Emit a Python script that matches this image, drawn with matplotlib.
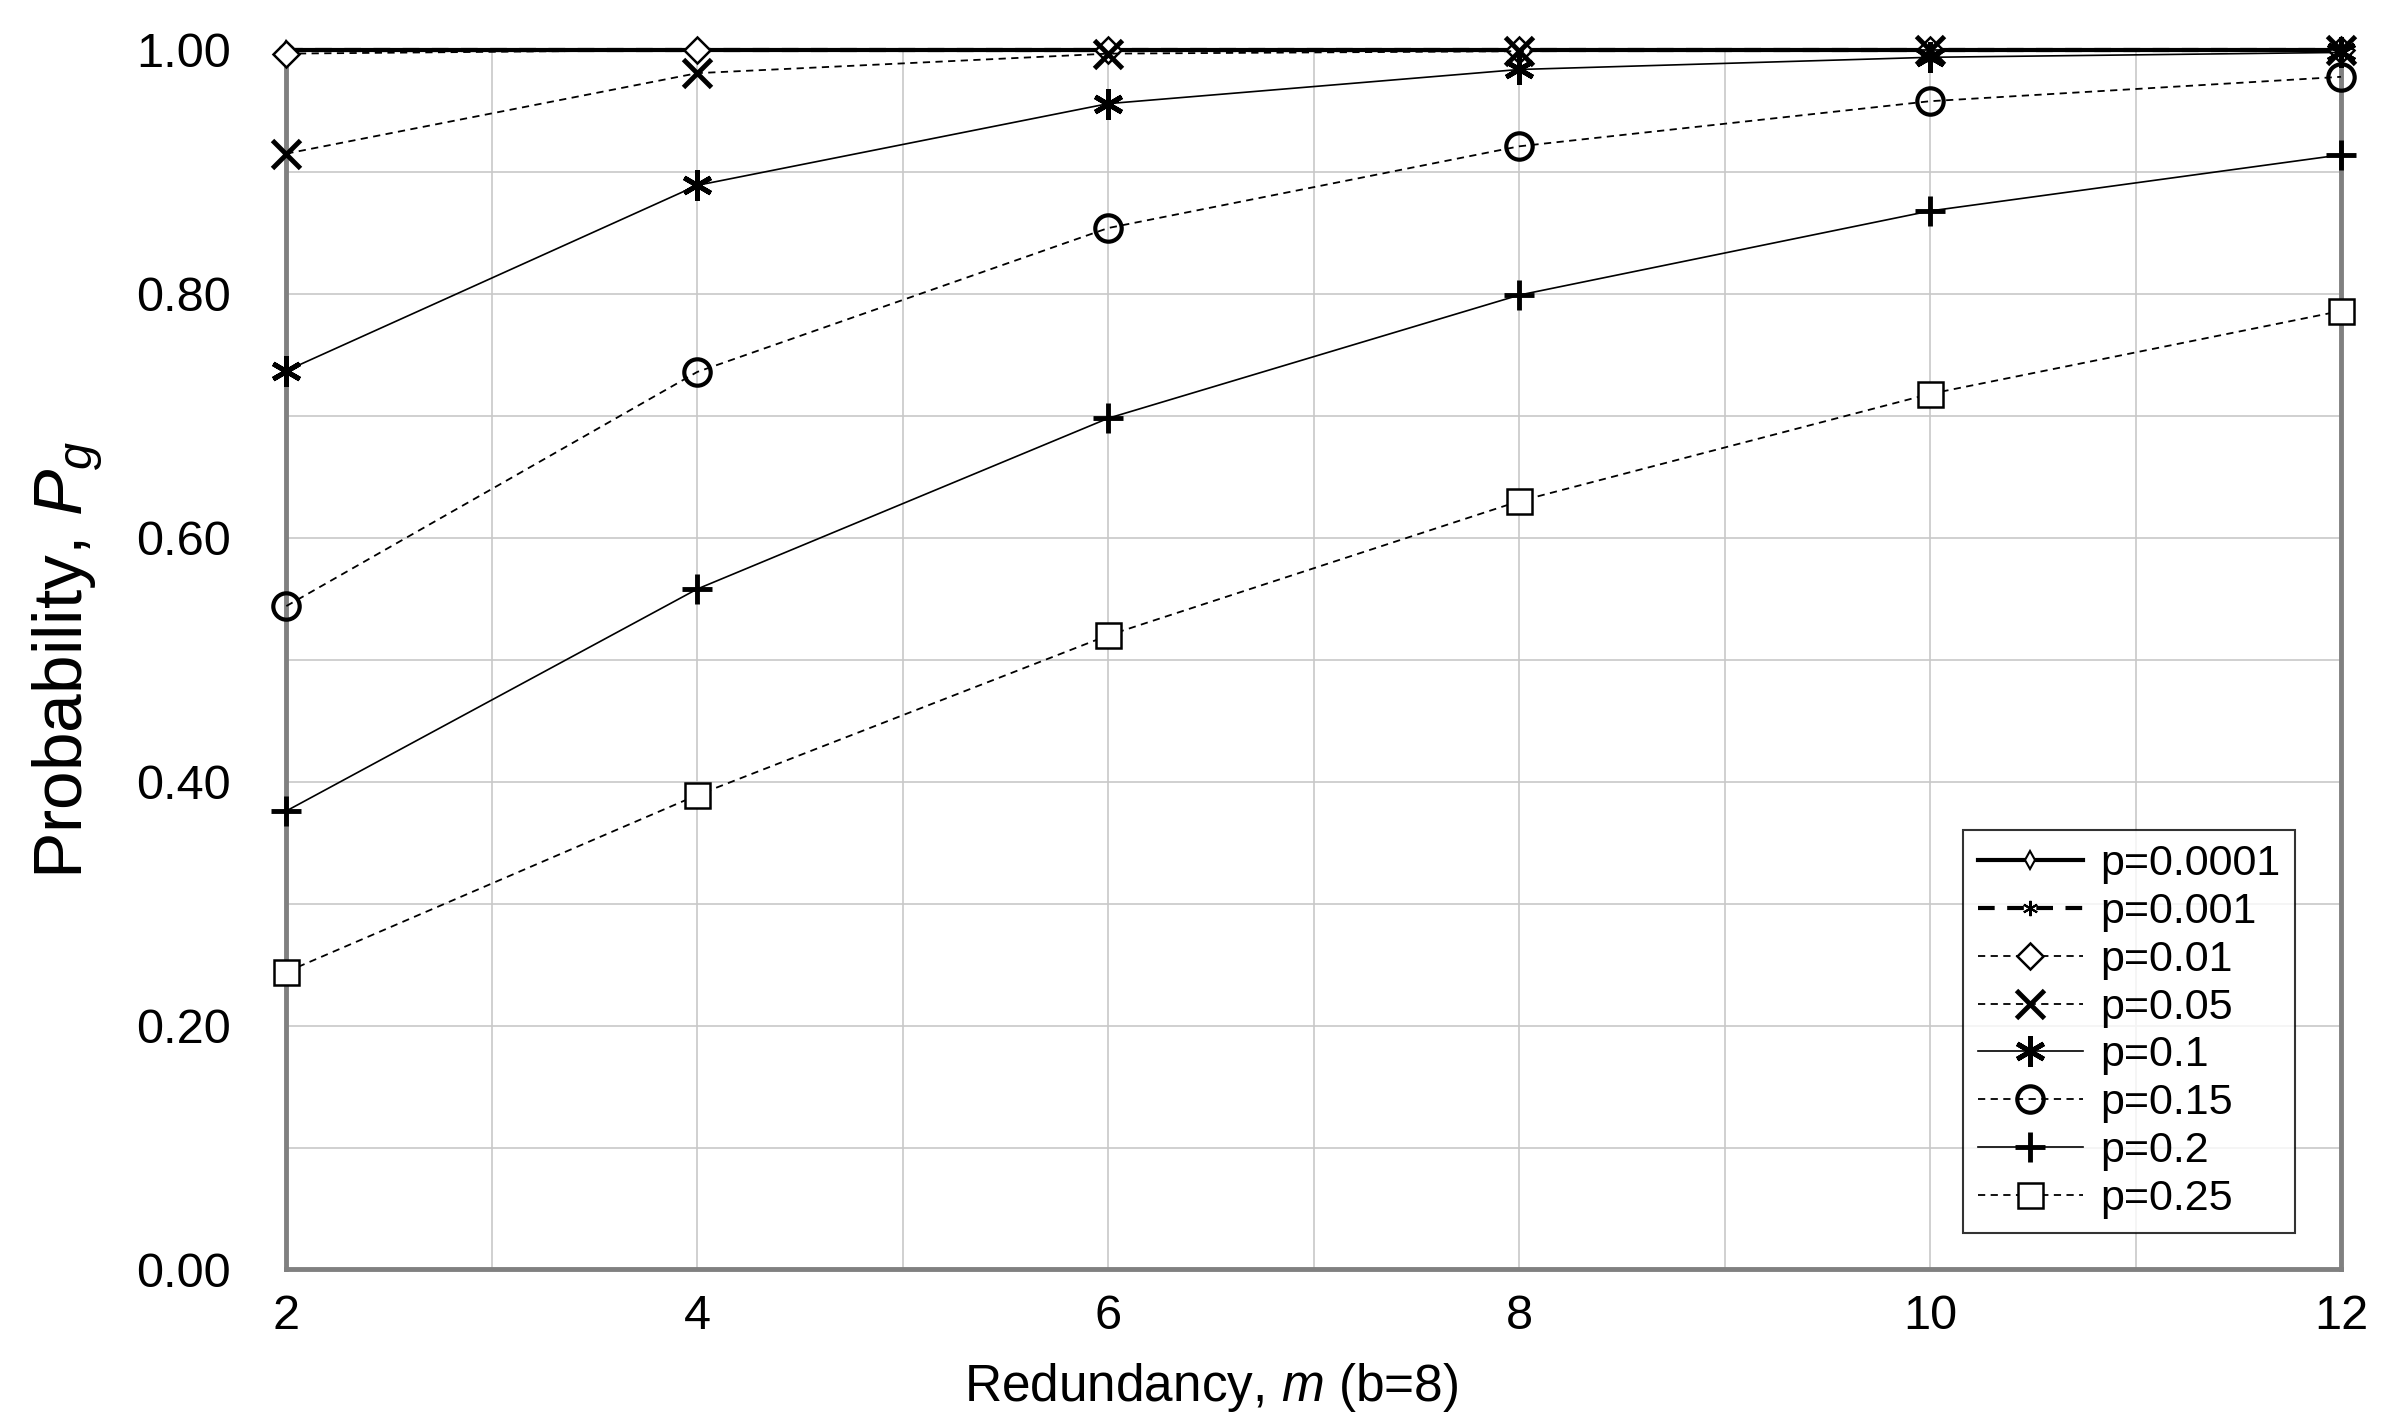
import numpy as np
import matplotlib
matplotlib.use("Agg")
import matplotlib.pyplot as plt

# redundancy m, b=8
m = [2, 4, 6, 8, 10, 12]

p_labels = ["p=0.0001", "p=0.001", "p=0.01", "p=0.05",
            "p=0.1", "p=0.15", "p=0.2", "p=0.25"]

pg_00001 = [1.000, 1.000, 1.000, 1.000, 1.000, 1.000]
pg_0001 = [1.000, 1.000, 1.000, 1.000, 1.000, 1.000]
pg_001 = [0.997, 1.000, 1.000, 1.000, 1.000, 1.000]
pg_005 = [0.915, 0.981, 0.997, 0.999, 1.000, 1.000]
pg_01 = [0.737, 0.889, 0.956, 0.984, 0.994, 0.998]
pg_015 = [0.544, 0.736, 0.854, 0.921, 0.958, 0.978]
pg_02 = [0.376, 0.558, 0.698, 0.799, 0.868, 0.914]
pg_025 = [0.244, 0.389, 0.520, 0.630, 0.718, 0.786]

series = [pg_00001, pg_0001, pg_001, pg_005, pg_01, pg_015, pg_02, pg_025]

dash = (0, (4, 3))
styles = [
    dict(ls="-", lw=3.0, marker="d", ms=9, mfc="white", mew=1.5),
    dict(ls=dash, lw=3.0, marker=(6, 2, 0), ms=11, mfc="black", mew=1.5),
    dict(ls=dash, lw=1.3, marker="D", ms=13, mfc="white", mew=1.8),
    dict(ls=dash, lw=1.3, marker="x", ms=20, mfc="black", mew=3.5),
    dict(ls="-", lw=1.2, marker=(6, 2, 0), ms=22, mfc="black", mew=3.5),
    dict(ls=dash, lw=1.3, marker="o", ms=19, mfc="none", mew=3.0),
    dict(ls="-", lw=1.2, marker="+", ms=22, mfc="black", mew=3.5),
    dict(ls=dash, lw=1.3, marker="s", ms=18, mfc="white", mew=1.8),
]

plt.rcParams['font.family'] = ['Liberation Sans', 'DejaVu Sans']
plt.rcParams['mathtext.fontset'] = 'custom'
plt.rcParams['mathtext.rm'] = 'Liberation Sans'
plt.rcParams['mathtext.it'] = 'Liberation Sans:italic'

fig = plt.figure(figsize=(24.06, 14.28), dpi=100)
ax = fig.add_axes([0.119, 0.111, 0.854, 0.854])

for vals, lab, st in zip(series, p_labels, styles):
    ax.plot(m, vals, color="black", mec="black", label=lab,
            clip_on=False, zorder=3, **st)

ax.set_xlim(2, 12)
ax.set_ylim(0, 1.0)
ax.set_xticks(m)
ax.set_xticks(np.arange(2, 13, 1), minor=True)
ax.set_yticks(np.arange(0, 1.01, 0.2))
ax.set_yticks(np.arange(0, 1.01, 0.1), minor=True)
ax.set_yticklabels(["%.2f" % v for v in np.arange(0, 1.01, 0.2)])
ax.grid(which="both", color="#c8c8c8", lw=1.2)
ax.set_axisbelow(True)

for side in ["left", "bottom", "right"]:
    ax.spines[side].set_color("#808080")
    ax.spines[side].set_linewidth(3.5)
ax.spines["top"].set_visible(False)

ax.tick_params(which="both", length=0, labelsize=35, pad=18)
ax.tick_params(axis="y", pad=40)

ax.set_xlabel("Redundancy, $m$ (b=8)", fontsize=37, labelpad=14)
ax.xaxis.set_label_coords(0.45, -0.075)
ax.set_ylabel("Probability, $P_g$", fontsize=50, labelpad=22)

leg = ax.legend(loc="lower right", bbox_to_anchor=(0.9775, 0.03),
                fontsize=31, frameon=True, fancybox=False,
                edgecolor="black", handlelength=2.45, borderpad=0.33,
                labelspacing=0.18, handletextpad=0.4, borderaxespad=0)
leg.get_frame().set_linewidth(1.5)
leg.set_zorder(5)

fig.savefig("out.png", dpi=100, facecolor="white")
